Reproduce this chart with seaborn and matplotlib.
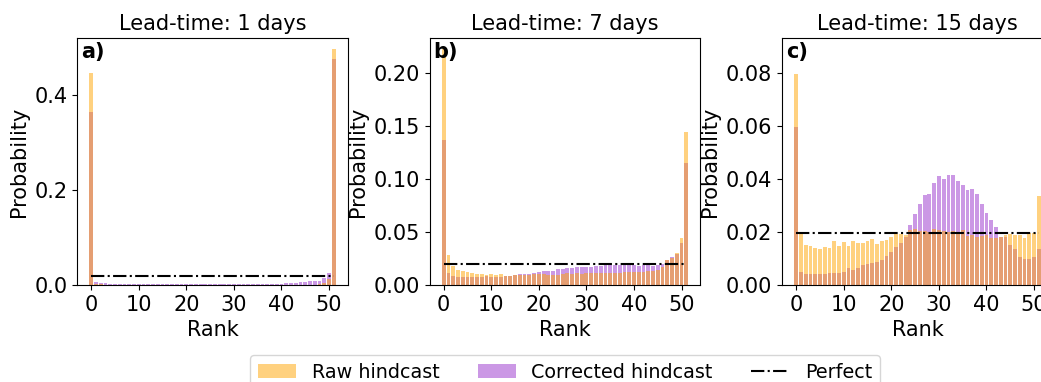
import numpy as np
import pandas as pd
import matplotlib
matplotlib.use("Agg")
import matplotlib.pyplot as plt
from matplotlib.patches import Patch
from matplotlib.lines import Line2D
from matplotlib.ticker import MultipleLocator
import seaborn as sns

ranks = list(range(52))

raw_1d = [0.4475, 0.003, 0.002] + [0.001] * 45 + [0.002, 0.005, 0.012, 0.497]
corr_1d = ([0.364, 0.007, 0.005, 0.004, 0.003] + [0.0025] * 35 +
           [0.003, 0.004, 0.004, 0.005, 0.006, 0.007, 0.008, 0.0085, 0.009, 0.014, 0.026, 0.477])

raw_7d = [0.222, 0.0284, 0.0176, 0.0142, 0.0132, 0.012, 0.011, 0.0099, 0.0099, 0.0098,
          0.0107, 0.0098, 0.0100, 0.0088, 0.0088, 0.0092, 0.0094, 0.0096, 0.0096, 0.0102,
          0.0102, 0.0102, 0.0098, 0.0098, 0.0098, 0.0104, 0.0110, 0.0107, 0.0113, 0.0107,
          0.0110, 0.0110, 0.0110, 0.0110, 0.0110, 0.0117, 0.0113, 0.0117, 0.0120, 0.0120,
          0.0120, 0.0123, 0.0123, 0.0129, 0.0129, 0.0145, 0.0170, 0.0236, 0.025, 0.030,
          0.044, 0.1446]
corr_7d = [0.137, 0.011, 0.0085, 0.0079, 0.0076, 0.0078, 0.0078, 0.0080, 0.0080, 0.0082,
           0.0080, 0.0080, 0.0080, 0.0082, 0.0085, 0.0098, 0.0104, 0.0104, 0.0107, 0.0117,
           0.0126, 0.0132, 0.0135, 0.0135, 0.0148, 0.0150, 0.0160, 0.0160, 0.0167, 0.0170,
           0.0173, 0.0173, 0.0176, 0.0176, 0.0192, 0.0192, 0.0192, 0.0192, 0.0189, 0.0189,
           0.0186, 0.0180, 0.0186, 0.0186, 0.0180, 0.0190, 0.0200, 0.0233, 0.0268, 0.029,
           0.0393, 0.115]

raw_15d = [0.0796, 0.0197, 0.0153, 0.0149, 0.0139, 0.0137, 0.0145, 0.0139, 0.0166, 0.0149,
           0.0161, 0.0147, 0.0166, 0.0159, 0.0159, 0.0168, 0.0173, 0.0155, 0.0168, 0.0172,
           0.0180, 0.0192, 0.0193, 0.0190, 0.0209, 0.0210, 0.0206, 0.0205, 0.0201, 0.0210,
           0.0208, 0.0206, 0.0202, 0.0206, 0.0202, 0.0207, 0.0187, 0.0190, 0.0180, 0.0186,
           0.0188, 0.0177, 0.0177, 0.0180, 0.0188, 0.0193, 0.0190, 0.0190, 0.0178, 0.0195,
           0.0195, 0.0336]
corr_15d = [0.0598, 0.0051, 0.0040, 0.0040, 0.0040, 0.0043, 0.0040, 0.0046, 0.0047, 0.0047,
            0.0048, 0.0063, 0.0057, 0.0064, 0.0075, 0.0080, 0.0082, 0.0088, 0.0095, 0.0111,
            0.0125, 0.0145, 0.0159, 0.0183, 0.0225, 0.0269, 0.0305, 0.0341, 0.0345, 0.0386,
            0.0412, 0.0400, 0.0415, 0.0415, 0.0392, 0.0380, 0.0361, 0.0363, 0.0343, 0.0307,
            0.0273, 0.0245, 0.0220, 0.0183, 0.0180, 0.0152, 0.0137, 0.0107, 0.0099, 0.0099,
            0.0104, 0.0136]

perfect = 0.0196
lead_times = [1, 7, 15]
panel_labels = ["a)", "b)", "c)"]
ylims = [0.521, 0.2328, 0.0934]

raw_list = [raw_1d, raw_7d, raw_15d]
corr_list = [corr_1d, corr_7d, corr_15d]

raw_color = "orange"
corr_color = "darkorchid"
alpha = 0.5

fs = 15
plt.rcParams["font.family"] = "DejaVu Sans"

fig = plt.figure(figsize=(10.41, 3.82), dpi=100)
lefts = [77 / 1041, 429.5 / 1041, 782 / 1041]
for i in range(3):
    ax = fig.add_axes([lefts[i], 1 - 285 / 382, 271 / 1041, 247 / 382])
    df = pd.DataFrame({"rank": ranks, "raw": raw_list[i], "corr": corr_list[i]})
    sns.barplot(data=df, x="rank", y="corr", native_scale=True, color=corr_color,
                saturation=1, alpha=alpha, errorbar=None, linewidth=0,
                edgecolor="none", ax=ax)
    sns.barplot(data=df, x="rank", y="raw", native_scale=True, color=raw_color,
                saturation=1, alpha=alpha, errorbar=None, linewidth=0,
                edgecolor="none", ax=ax)
    ax.hlines(perfect, ranks[0], ranks[-1], colors="black", linestyles="-.", linewidth=1.5)
    ax.set_ylim(0, ylims[i])
    ax.set_xlim(-2.99, 53.99)
    ax.xaxis.set_major_locator(MultipleLocator(10))
    ax.set_title(f"Lead-time: {lead_times[i]} days", fontsize=fs)
    ax.set_xlabel("Rank", fontsize=fs)
    ax.set_ylabel("Probability", fontsize=fs)
    ax.tick_params(labelsize=fs)
    ax.text(0.015, 0.985, panel_labels[i], transform=ax.transAxes, fontsize=fs,
            fontweight="bold", va="top", ha="left")

handles = [Patch(facecolor=raw_color, alpha=alpha, label="Raw hindcast"),
           Patch(facecolor=corr_color, alpha=alpha, label="Corrected hindcast"),
           Line2D([0], [0], color="black", linestyle="-.", label="Perfect")]
fig.legend(handles=handles, loc="upper center", bbox_to_anchor=(565 / 1041, 1 - 355 / 382),
           borderaxespad=0, ncol=3, fontsize=13.8, frameon=True)

fig.savefig("out.png", dpi=100)
